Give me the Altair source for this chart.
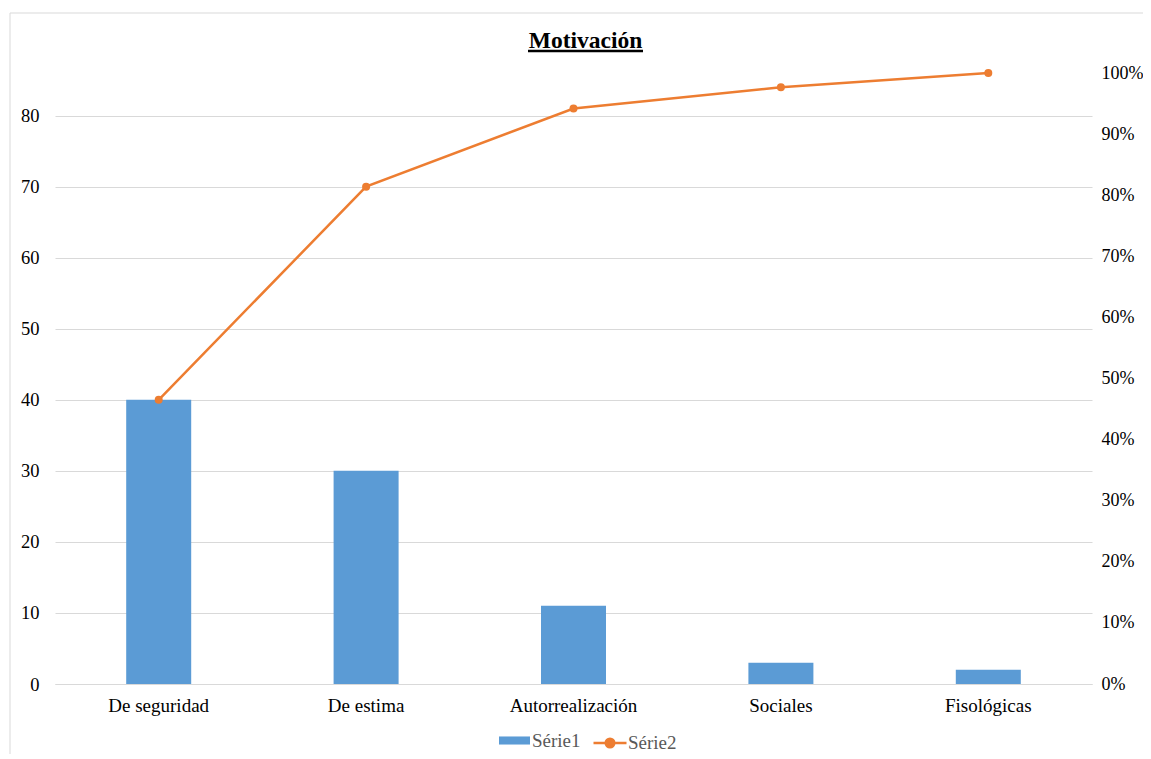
import altair as alt
import pandas as pd

categories = ["De seguridad", "De estima", "Autorrealización", "Sociales", "Fisológicas"]
counts = [40, 30, 11, 3, 2]
left_ticks = [0, 10, 20, 30, 40, 50, 60, 70, 80]
right_ticks = [0, 0.1, 0.2, 0.3, 0.4, 0.5, 0.6, 0.7, 0.8, 0.9, 1.0]
title_text = "Motivación"

total = sum(counts)
cum = []
s = 0
for c in counts:
    s += c
    cum.append(s / total)

df = pd.DataFrame({"cat": categories, "count": counts, "pct": cum})

FONT = "Liberation Serif"
BLUE = "#5B9BD5"
ORANGE = "#ED7D31"
GRID = "#D9D9D9"

x_enc = alt.X("cat:N", sort=categories, title=None,
              scale=alt.Scale(paddingInner=0, paddingOuter=0),
              axis=alt.Axis(labelAngle=0, ticks=False, domainColor=GRID, domainWidth=1,
                            labelFont=FONT, labelFontSize=19, labelColor="#000000",
                            labelPadding=12, grid=False))

bars = alt.Chart(df).transform_calculate(s1="'Série1'").mark_bar(size=65).encode(
    x=x_enc,
    y=alt.Y("count:Q", title=None, scale=alt.Scale(domain=[0, total], nice=False),
            axis=alt.Axis(values=left_ticks, ticks=False, domain=False, gridColor=GRID,
                          labelFont=FONT, labelFontSize=18.5, labelColor="#000000",
                          labelPadding=16)),
    color=alt.Color("s1:N", scale=alt.Scale(domain=["Série1"], range=[BLUE]),
                    legend=alt.Legend(orient="none", legendX=444, legendY=652, title=None,
                                      symbolType="M-1,-0.26H1V0.26H-1Z", symbolSize=961,
                                      symbolStrokeWidth=0, labelFont=FONT, labelFontSize=19,
                                      labelColor="#595959", padding=0, labelOffset=2)),
)

y_right = alt.Y("pct:Q", title=None, scale=alt.Scale(domain=[0, 1], nice=False),
                axis=alt.Axis(orient="right", values=right_ticks, format=".0%", grid=False,
                              ticks=False, domain=False, labelFont=FONT, labelFontSize=18,
                              labelColor="#000000", labelPadding=9))

line = alt.Chart(df).transform_calculate(s2="'Série2'").mark_line(strokeWidth=2.5).encode(
    x=alt.X("cat:N", sort=categories),
    y=y_right,
    stroke=alt.Stroke("s2:N", scale=alt.Scale(domain=["Série2"], range=[ORANGE]),
                      legend=alt.Legend(orient="none", legendX=537, legendY=652, title=None,
                                        symbolType="M-1,0H1M0.26,0A0.26,0.26 0 1 1 -0.26,0A0.26,0.26 0 1 1 0.26,0Z",
                                        symbolSize=1089, symbolStrokeWidth=2.5,
                                        symbolFillColor=ORANGE, labelFont=FONT,
                                        labelFontSize=19, labelColor="#595959", padding=0,
                                        labelOffset=0)),
)
points = alt.Chart(df).mark_circle(size=64, color=ORANGE, opacity=1).encode(
    x=alt.X("cat:N", sort=categories),
    y=y_right,
)

one = alt.Data(values=[{"a": 1}])
frame = alt.Chart(one).mark_rect(fill="white", fillOpacity=0, stroke="#D9D9D9",
                                 strokeWidth=1).encode(
    x=alt.value(-45), x2=alt.value(1100), y=alt.value(-60), y2=alt.value(700))
title = alt.Chart(one).mark_text(text=title_text, font=FONT, fontSize=23.5, fontWeight="bold",
                                 color="#000000", align="center", baseline="alphabetic").encode(
    x=alt.value(530.5), y=alt.value(-25))
underline = alt.Chart(one).mark_rule(color="#000000", strokeWidth=2.5).encode(
    x=alt.value(473), x2=alt.value(588), y=alt.value(-22))

chart = alt.layer(
    frame, bars, alt.layer(line, points), title, underline
).resolve_scale(y="independent", color="independent").properties(
    width=1037, height=611,
    autosize=alt.AutoSizeParams(type="none"),
    padding={"left": 47, "top": 65, "right": 51, "bottom": 70},
).configure_view(stroke=None)

chart.save("out.html", embed_options={"renderer": "svg", "actions": False})
